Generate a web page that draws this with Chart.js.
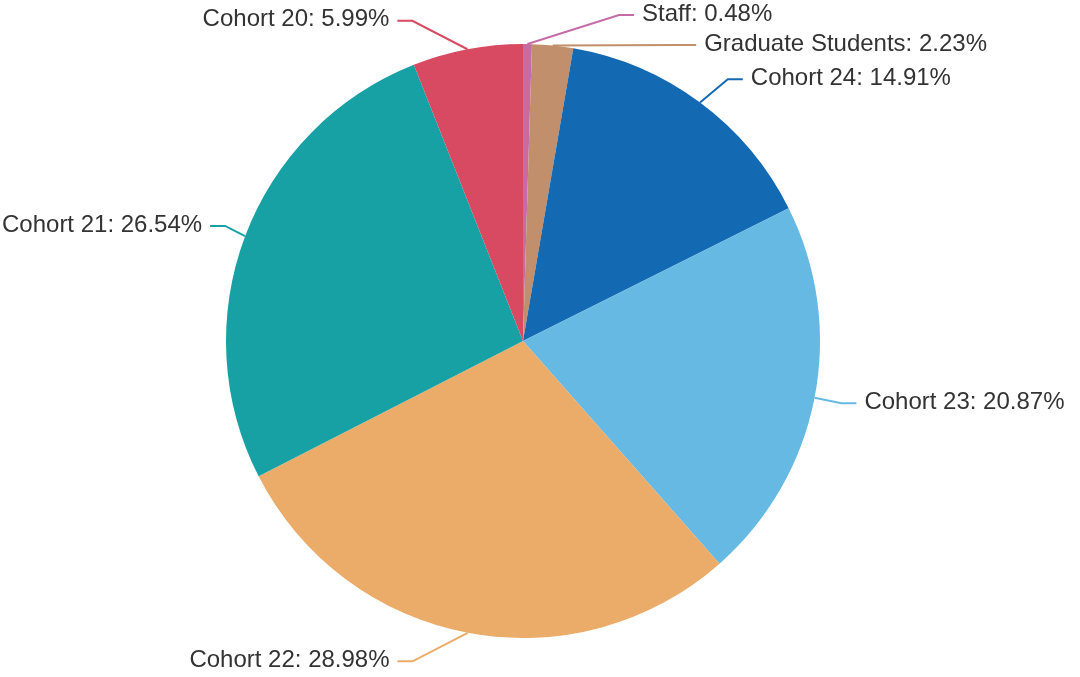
<!DOCTYPE html>
<html>
<head>
<meta charset="utf-8">
<script src="https://cdn.jsdelivr.net/npm/chart.js@4.4.0/dist/chart.umd.min.js"></script>
<style>
    html, body { margin: 0; padding: 0; background: #ffffff; }
    #wrap { width: 1080px; height: 677px; position: relative; }
</style>
</head>
<body>
<div id="wrap"><canvas id="myChart"></canvas></div>
<script>
let labels = ['Staff', 'Graduate Students', 'Cohort 24', 'Cohort 23', 'Cohort 22', 'Cohort 21', 'Cohort 20']
let shares = [0.48, 2.23, 14.91, 20.87, 28.98, 26.54, 5.99]
let sliceColors = ['#c56ca5', '#c18f6b', '#1469b3', '#66b9e2', '#ebab69', '#17a1a5', '#d84a62']

// labels outside the pie with a two-part leader line
const outerLabels = {
    id: 'outerLabels',
    afterDatasetsDraw(chart) {
        const ctx = chart.ctx
        const meta = chart.getDatasetMeta(0)
        let items = []

        meta.data.forEach((arc, i) => {
            let p = arc.getProps(['x', 'y', 'startAngle', 'endAngle', 'outerRadius'], true)
            let mid = (p.startAngle + p.endAngle) / 2
            let cos = Math.cos(mid)
            let sin = Math.sin(mid)
            items.push({
                i: i,
                cx: p.x,
                cy: p.y,
                r: p.outerRadius,
                dir: cos >= 0 ? 1 : -1,
                x0: p.x + cos * p.outerRadius,
                y0: p.y + sin * p.outerRadius,
                y: p.y + sin * (p.outerRadius + 29)
            })
        })

        // push overlapping labels down on each side
        ;[1, -1].forEach((side) => {
            let list = items.filter((e) => e.dir == side).sort((a, b) => a.y - b.y)
            for (let k = 1; k < list.length; k++) {
                if (list[k].y - list[k - 1].y < 30) {
                    list[k].y = list[k - 1].y + 30
                }
            }
        })

        ctx.save()
        ctx.font = '24px "Liberation Sans", Arial, sans-serif'
        ctx.textBaseline = 'middle'
        items.forEach((e) => {
            let text = labels[e.i] + ': ' + shares[e.i].toFixed(2) + '%'
            let w = ctx.measureText(text).width
            let R2 = e.r + 50
            let dy = e.y - e.cy
            let tx = e.cx + e.dir * Math.sqrt(Math.max(R2 * R2 - dy * dy, 0))
            // keep text inside the canvas
            if (e.dir < 0 && tx - w < 2) tx = w + 2
            if (e.dir > 0 && tx + w > chart.width - 2) tx = chart.width - 2 - w
            let lineEnd = tx - e.dir * 8
            let elbow = lineEnd - e.dir * 15

            ctx.strokeStyle = sliceColors[e.i]
            ctx.lineWidth = 2
            ctx.beginPath()
            ctx.moveTo(e.x0, e.y0)
            ctx.lineTo(elbow, e.y)
            ctx.lineTo(lineEnd, e.y)
            ctx.stroke()

            ctx.fillStyle = '#333333'
            ctx.textAlign = e.dir > 0 ? 'left' : 'right'
            ctx.fillText(text, tx, e.y - 1)
        })
        ctx.restore()
    }
}

let data = {
    labels: labels,
    datasets: [{
        data: shares,
        backgroundColor: sliceColors,
        borderWidth: 0,
        hoverOffset: 0
    }]
}

let config = {
    type: 'pie',
    data: data,
    options: {
        responsive: true,
        maintainAspectRatio: false,
        animation: false,
        layout: {
            padding: { left: 100, right: 134, top: 44, bottom: 39 }
        },
        plugins: {
            legend: { display: false },
            tooltip: { enabled: false }
        }
    },
    plugins: [outerLabels]
}

let mychart = new Chart(document.getElementById('myChart'), config)
</script>
</body>
</html>
